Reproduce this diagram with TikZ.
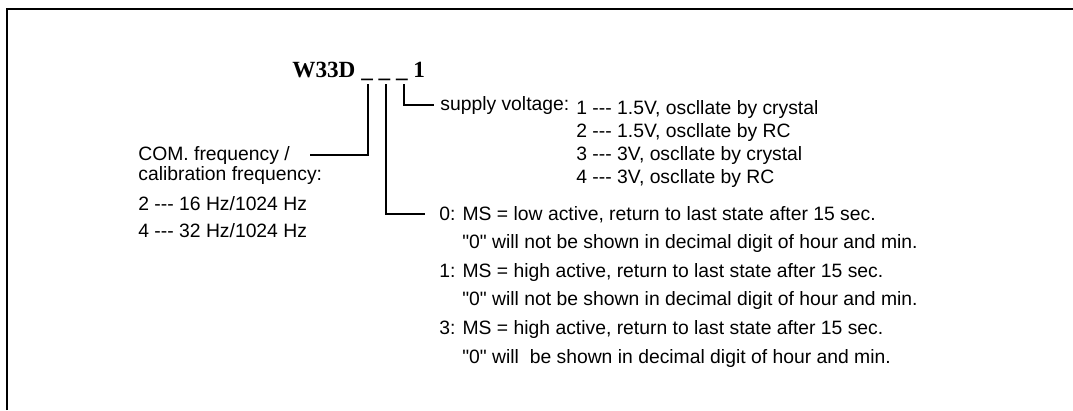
\documentclass[tikz,border=0pt]{standalone}
\usepackage{fontspec}
\usepackage{tikz}
\newfontfamily\arialfont{Liberation Sans}
\newfontfamily\timesfont{Liberation Serif}
\tikzset{
    txt/.style={font=\arialfont\fontsize{11}{13}\selectfont, inner xsep=1.2mm, inner ysep=0pt, anchor=base west},
    wire/.style={line width=0.3mm},
    frame/.style={line width=0.4mm}
}

\begin{document}
\begin{tikzpicture}[x=0.2mm, y=-0.2mm]
    \useasboundingbox (0,0) rectangle (1073,410);
    \draw[frame] (7,410) -- (7,9) -- (1073,9);
    % part number
    \node[anchor=base west, inner sep=0pt, font=\timesfont\bfseries\fontsize{13.2}{15}\selectfont]
        (title) at (292,77) {W33D \_ \_ \_ 1};
    \coordinate (u1) at (368,84);
    \coordinate (u2) at (386,84);
    \coordinate (u3) at (404,84);
    % supply voltage
    \node[txt] (sv) at (434,110) {supply voltage:};
    \foreach \n/\v/\o [count=\i from 0] in {1/1.5V/crystal, 2/1.5V/RC, 3/3V/crystal, 4/3V/RC}
        \node[txt] (sv\n) at (570,{114+23*\i}) {\n\ --- \v, oscllate by \o};
    % COM. frequency
    \node[txt] (com) at (132,160) {COM. frequency /};
    \node[txt] (cal) at (132,180) {calibration frequency:};
    \node[txt] (f2) at (132,210) {2 --- 16 Hz/1024 Hz};
    \node[txt] (f4) at (132,237) {4 --- 32 Hz/1024 Hz};
    % MS level
    \foreach \k/\lvl/\nt [count=\i from 0] in {0/low/not, 1/high/not, 3/high/{}} {
        \node[txt] (ms\k) at (433,{220+57.3*\i}) {\k: MS = \lvl\ active, return to last state after 15 sec.};
        \node[txt] (ms\k b) at (456,{248.6+57.3*\i}) {"0" will \nt\ be shown in decimal digit of hour and min.};
    }
    % digits
    \draw[wire] (u1) |- ([xshift=2.8mm]com.east);
    \draw[wire] (u2) |- ([xshift=-1.6mm]ms0.west);
    \draw[wire] (u3) |- (sv.west);
\end{tikzpicture}
\end{document}
